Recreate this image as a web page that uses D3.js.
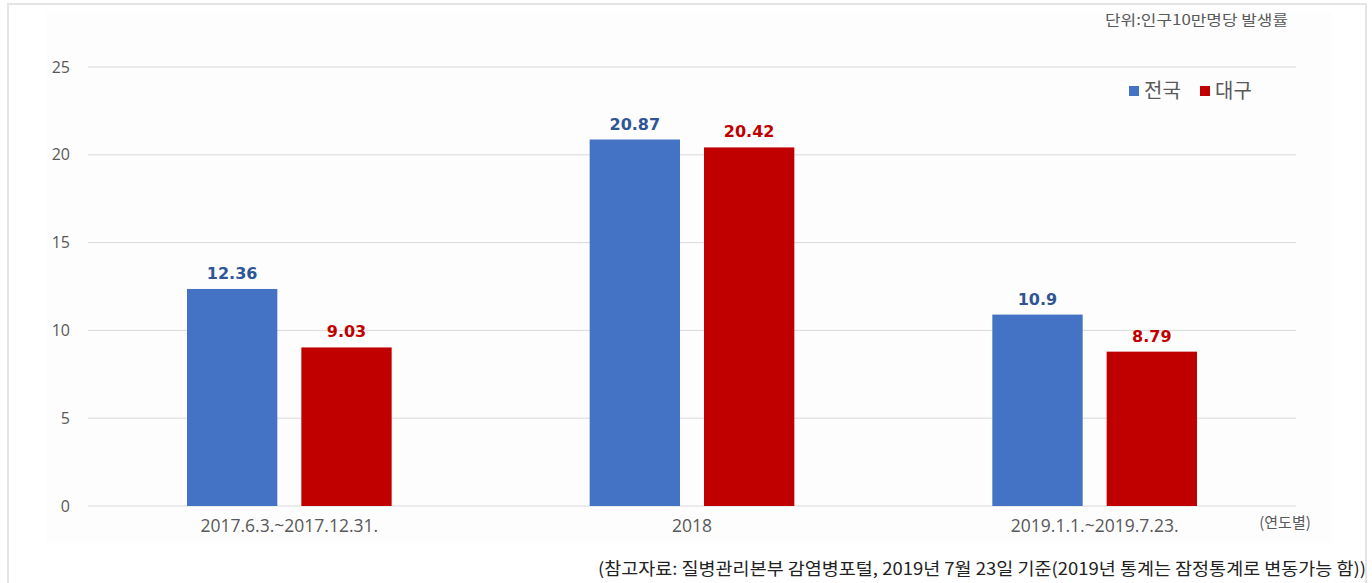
<!DOCTYPE html>
<html>
<head>
<meta charset="utf-8">
<script src="https://cdn.jsdelivr.net/npm/d3@7"></script>
<style>
  body { margin: 0; background: #fff; }
  svg text { font-family: "Noto Sans CJK KR", "Noto Sans", sans-serif; }
</style>
</head>
<body>
<div id="chart-area"></div>
<script>
// data
var categories = ["2017.6.3.~2017.12.31.", "2018", "2019.1.1.~2019.7.23."];
var seriesNames = ["전국", "대구"];
var nationValues = [12.36, 20.87, 10.9];
var daeguValues = [9.03, 20.42, 8.79];
var valueLabels = [["12.36", "20.87", "10.9"], ["9.03", "20.42", "8.79"]];
var yTicks = [0, 5, 10, 15, 20, 25];

var barColors = ["#4472C4", "#C00000"];
var labelColors = ["#2F5597", "#C00000"];

var W = 1372, H = 583;
var margin = { left: 88, right: 76, top: 67, bottom: 77 };
var width = W - margin.left - margin.right;
var height = H - margin.top - margin.bottom;

var svg = d3.select("#chart-area").append("svg")
    .attr("width", W)
    .attr("height", H);

// outer frame + faint plot background
svg.append("rect")
    .attr("x", 46).attr("y", 12)
    .attr("width", 1286).attr("height", 531)
    .attr("fill", "#fdfdfd");
svg.append("path")
    .attr("d", "M8,583 V4 H1366 V583")
    .attr("fill", "none")
    .attr("stroke", "#e4e4e4")
    .attr("stroke-width", 2);

var g = svg.append("g")
    .attr("transform", "translate(" + margin.left + "," + margin.top + ")");

var x0 = d3.scaleBand().domain(categories).range([0, width]);
var x1 = d3.scaleBand().domain(seriesNames).range([99, x0.bandwidth() - 99]).paddingInner(0.21);
var y = d3.scaleLinear().domain([0, 25]).range([height, 0]);

// gridlines
g.selectAll(".grid")
    .data(yTicks)
  .enter().append("line")
    .attr("class", "grid")
    .attr("x1", 0).attr("x2", width)
    .attr("y1", function(d){ return y(d); })
    .attr("y2", function(d){ return y(d); })
    .attr("stroke", "#d9d9d9")
    .attr("stroke-width", 1);

// y axis labels
var yAxis = d3.axisLeft(y).tickValues(yTicks).tickSize(0).tickPadding(18);
g.append("g").call(yAxis)
    .call(function(s){ s.select(".domain").remove(); })
    .selectAll("text")
    .attr("font-size", 16)
    .attr("fill", "#595959")
    .style("font-family", "'Open Sans', 'Noto Sans', sans-serif");

// x axis labels
var xAxis = d3.axisBottom(x0).tickSize(0).tickPadding(14);
g.append("g").attr("transform", "translate(0," + height + ")").call(xAxis)
    .call(function(s){ s.select(".domain").remove(); })
    .selectAll("text")
    .attr("font-size", 17.5)
    .attr("fill", "#595959")
    .style("font-family", "'Open Sans', 'Noto Sans', sans-serif");

var rows = categories.map(function(c, i){
    return { cat: c, vals: [nationValues[i], daeguValues[i]], labels: [valueLabels[0][i], valueLabels[1][i]] };
});

var groups = g.selectAll(".group")
    .data(rows)
  .enter().append("g")
    .attr("class", "group")
    .attr("transform", function(d){ return "translate(" + x0(d.cat) + ",0)"; });

groups.selectAll("rect")
    .data(function(d){ return d.vals.map(function(v, j){ return { s: seriesNames[j], v: v, j: j }; }); })
  .enter().append("rect")
    .attr("x", function(d){ return x1(d.s); })
    .attr("width", x1.bandwidth())
    .attr("y", function(d){ return y(d.v); })
    .attr("height", function(d){ return height - y(d.v); })
    .attr("fill", function(d){ return barColors[d.j]; });

groups.selectAll(".value")
    .data(function(d){ return d.vals.map(function(v, j){ return { s: seriesNames[j], v: v, j: j, t: d.labels[j] }; }); })
  .enter().append("text")
    .attr("class", "value")
    .attr("x", function(d){ return x1(d.s) + x1.bandwidth() / 2; })
    .attr("y", function(d){ return y(d.v) - 10; })
    .attr("text-anchor", "middle")
    .attr("font-size", 16)
    .attr("font-weight", "bold")
    .attr("fill", function(d){ return labelColors[d.j]; })
    .style("font-family", "'DejaVu Sans', Verdana, sans-serif")
    .text(function(d){ return d.t; });

// legend
var legend = svg.append("g").attr("transform", "translate(1129,91)");
var legX = [0, 71];
seriesNames.forEach(function(name, i){
    legend.append("rect")
        .attr("x", legX[i]).attr("y", -5)
        .attr("width", 10).attr("height", 10)
        .attr("fill", barColors[i]);
    legend.append("text")
        .attr("x", legX[i] + 15).attr("y", 0)
        .attr("dy", "0.35em")
        .attr("font-size", 20)
        .attr("fill", "#595959")
        .text(name);
});

// unit note
svg.append("text")
    .attr("x", 1288).attr("y", 25)
    .attr("text-anchor", "end")
    .attr("font-size", 14)
    .attr("fill", "#595959")
    .attr("textLength", 183)
    .attr("lengthAdjust", "spacingAndGlyphs")
    .text("단위:인구10만명당 발생률");

// x unit
svg.append("text")
    .attr("x", 1285).attr("y", 528)
    .attr("text-anchor", "middle")
    .attr("font-size", 15)
    .attr("fill", "#595959")
    .text("(연도별)");

// source
svg.append("text")
    .attr("x", 1366).attr("y", 575)
    .attr("text-anchor", "end")
    .attr("font-size", 17)
    .attr("fill", "#222")
    .attr("textLength", 768)
    .attr("lengthAdjust", "spacingAndGlyphs")
    .text("(참고자료: 질병관리본부 감염병포털, 2019년 7월 23일 기준(2019년 통계는 잠정통계로 변동가능 함))");
</script>
</body>
</html>
